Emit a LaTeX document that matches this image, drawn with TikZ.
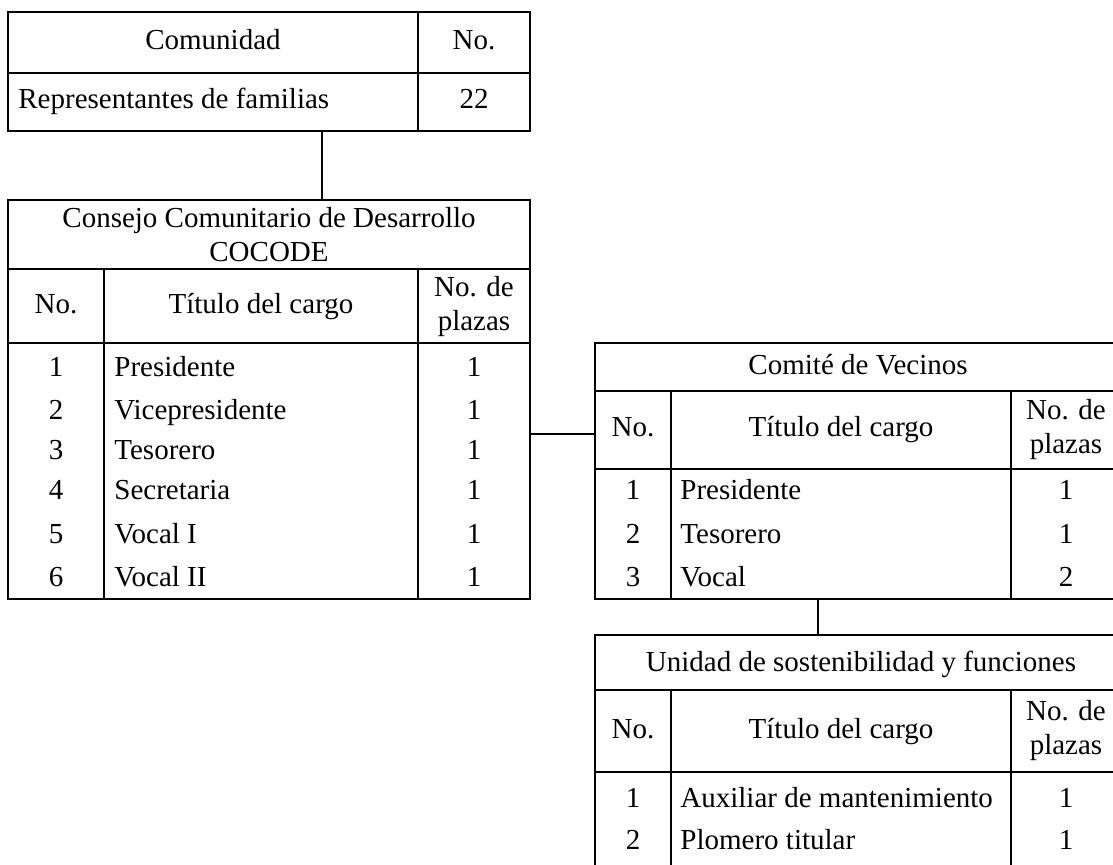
\documentclass[tikz,border=0pt]{standalone}
\usepackage{fontspec}
\setmainfont{Liberation Serif}
\usetikzlibrary{fit}
\newcommand{\cellfont}{\fontsize{14.5}{17}\selectfont}
\tikzset{
    frame/.style={draw, rectangle, line width=1.1pt, inner sep=0pt},
    rule/.style={line width=1.1pt},
    link/.style={line width=0.9pt},
    cell/.style={inner sep=0pt, font=\cellfont, text height=10pt, text depth=3pt},
    head/.style={inner sep=0pt, font=\cellfont, align=center},
    entry/.style={cell, anchor=west}
}
\begin{document}
\begin{tikzpicture}[x=0.5pt, y=-0.5pt]
    \useasboundingbox (0,0) rectangle (1113,865);

    % Comunidad
    \node[frame, fit={(8,12) (530,131)}] (comunidad) {};
    \draw[rule] (8,73) -- (530,73) (418,12) -- (418,131);
    \node[cell] (comTitle) at (213,43) {Comunidad};
    \node[cell] (comNo) at (474,43) {No.};
    \node[entry] (comRep) at (18,102) {Representantes de familias};
    \node[cell] (comNum) at (474,102) {22};

    % COCODE
    \node[frame, fit={(8,200) (530,599)}] (cocode) {};
    \draw[rule] (8,269) -- (530,269) (8,343) -- (530,343)
        (104,269) -- (104,599) (418,269) -- (418,599);
    \node[head] (cocTitle) at (269,235) {Consejo Comunitario de Desarrollo\\COCODE};
    \node[cell] (cocNo) at (56,307) {No.};
    \node[cell] (cocCargo) at (261,307) {Título del cargo};
    \node[head] (cocPlazas) at (474,307) {No. de\\plazas};
    \node[cell] (cocA) at (56,370) {1};
    \node[entry] (cocPres) at (114,370) {Presidente};
    \node[cell] at (474,370) (cocAn) {1};
    \node[cell] (cocB) at (56,413) {2};
    \node[entry] (cocVice) at (114,413) {Vicepresidente};
    \node[cell] (cocBn) at (474,413) {1};
    \node[cell] (cocC) at (56,453) {3};
    \node[entry] (cocTes) at (114,453) {Tesorero};
    \node[cell] (cocCn) at (474,453) {1};
    \node[cell] (cocD) at (56,493) {4};
    \node[entry] (cocSec) at (114,493) {Secretaria};
    \node[cell] (cocDn) at (474,493) {1};
    \node[cell] (cocE) at (56,537) {5};
    \node[entry] (cocVocI) at (114,537) {Vocal I};
    \node[cell] (cocEn) at (474,537) {1};
    \node[cell] (cocF) at (56,579) {6};
    \node[entry] (cocVocII) at (114,579) {Vocal II};
    \node[cell] (cocFn) at (474,579) {1};

    % Comite de Vecinos
    \node[frame, fit={(595,343) (1121,599)}] (comite) {};
    \draw[rule] (595,391) -- (1121,391) (595,469) -- (1121,469)
        (671,391) -- (671,599) (1011,391) -- (1011,599);
    \node[cell] (vecTitle) at (858,368) {Comité de Vecinos};
    \node[cell] (vecNo) at (633,430) {No.};
    \node[cell] (vecCargo) at (841,430) {Título del cargo};
    \node[head] (vecPlazas) at (1066,430) {No. de\\plazas};
    \node[cell] (vecA) at (633,493) {1};
    \node[entry] (vecPres) at (680,493) {Presidente};
    \node[cell] (vecAn) at (1066,493) {1};
    \node[cell] (vecB) at (633,537) {2};
    \node[entry] (vecTes) at (680,537) {Tesorero};
    \node[cell] (vecBn) at (1066,537) {1};
    \node[cell] (vecC) at (633,579) {3};
    \node[entry] (vecVocal) at (680,579) {Vocal};
    \node[cell] (vecCn) at (1066,579) {2};

    % Unidad de sostenibilidad
    \node[frame, fit={(595,635) (1121,880)}] (unidad) {};
    \draw[rule] (595,690) -- (1121,690) (595,772) -- (1121,772)
        (671,690) -- (671,880) (1011,690) -- (1011,880);
    \node[cell] (uniTitle) at (861,664) {Unidad de sostenibilidad y funciones};
    \node[cell] (uniNo) at (633,731) {No.};
    \node[cell] (uniCargo) at (841,731) {Título del cargo};
    \node[head] (uniPlazas) at (1066,731) {No. de\\plazas};
    \node[cell] (uniA) at (633,800) {1};
    \node[entry] (uniAux) at (680,800) {Auxiliar de mantenimiento};
    \node[cell] (uniAn) at (1066,800) {1};
    \node[cell] (uniB) at (633,842) {2};
    \node[entry] (uniPlom) at (680,842) {Plomero titular};
    \node[cell] (uniBn) at (1066,842) {1};

    % links
    \coordinate (up) at (322,0);
    \coordinate (side) at (0,434);
    \coordinate (down) at (818,0);
    \draw[link] (comunidad.south -| up) -- (cocode.north -| up);
    \draw[link] (cocode.east |- side) -- (comite.west |- side);
    \draw[link] (comite.south -| down) -- (unidad.north -| down);
\end{tikzpicture}
\end{document}
